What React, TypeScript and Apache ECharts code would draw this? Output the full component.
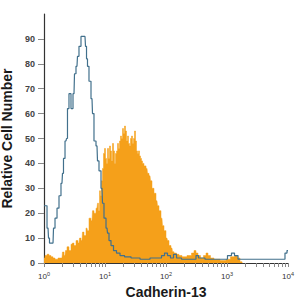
import React, { useEffect, useRef } from "react";
import * as echarts from "echarts";

// x values are log10(fluorescence intensity)
const controlLogX = [0, 0.033, 0.066, 0.082, 0.098, 0.148, 0.164, 0.197, 0.23, 0.262, 0.295, 0.311, 0.328, 0.361, 0.377, 0.393, 0.426, 0.459, 0.492, 0.508, 0.541, 0.557, 0.59, 0.623, 0.672, 0.689, 0.705, 0.721, 0.754, 0.787, 0.803, 0.836, 0.869, 0.885, 0.918, 0.951, 0.967, 1.0, 1.033, 1.049, 1.082, 1.115, 1.164, 1.213, 1.279, 1.361, 1.492, 1.656, 1.82, 1.902, 1.951, 2.0, 2.049, 2.098, 2.148, 2.197, 2.311, 2.475, 2.508, 2.557, 2.721, 2.967, 3.049, 3.098, 3.148, 3.213, 3.541, 3.934, 3.967, 4.0];
const controlCount = [23, 23, 14, 10, 8, 8, 14, 18, 22, 27, 32, 36, 42, 49, 50, 62, 68, 62, 68, 76, 79, 83, 87, 91, 91, 87, 82, 79, 73, 66, 60, 49, 47, 41, 37, 30, 24, 18, 14, 12, 9, 7, 5, 4, 3, 2.5, 2, 1.5, 2, 2, 3, 4, 3, 2, 3.5, 2, 1.5, 1.5, 3, 2, 1.5, 1.5, 3, 4, 3, 1.5, 1.5, 1.5, 4, 5];

const sampleLogX = [0, 0.033, 0.066, 0.098, 0.131, 0.164, 0.197, 0.262, 0.295, 0.311, 0.344, 0.361, 0.393, 0.426, 0.459, 0.475, 0.508, 0.541, 0.574, 0.59, 0.623, 0.639, 0.672, 0.705, 0.721, 0.754, 0.787, 0.803, 0.836, 0.869, 0.885, 0.902, 0.918, 0.934, 0.951, 0.967, 0.984, 1.0, 1.016, 1.033, 1.049, 1.066, 1.082, 1.098, 1.115, 1.131, 1.148, 1.164, 1.18, 1.197, 1.213, 1.23, 1.246, 1.262, 1.279, 1.295, 1.311, 1.328, 1.344, 1.361, 1.377, 1.393, 1.41, 1.426, 1.443, 1.459, 1.475, 1.492, 1.508, 1.525, 1.541, 1.557, 1.574, 1.59, 1.607, 1.623, 1.656, 1.689, 1.705, 1.738, 1.754, 1.787, 1.82, 1.852, 1.869, 1.902, 1.934, 1.951, 1.984, 2.016, 2.033, 2.066, 2.098, 2.115, 2.148, 2.197, 2.23, 2.295, 2.393, 2.443, 2.475, 2.508, 2.541, 2.59, 2.639, 2.672, 2.705, 2.754, 2.82, 2.951, 3.016, 3.098, 3.148, 3.197, 3.23, 3.262];
const sampleCount = [2, 3, 3.5, 3, 2.5, 2, 1.5, 2, 2, 4.4, 3, 5, 6.5, 5, 7.5, 8, 7, 9, 8, 10, 9, 12.4, 11, 14, 13, 18, 17, 21, 20, 22, 24, 21, 29, 27, 33, 38, 44, 46, 42, 40, 46, 42, 47, 45, 41, 48, 45, 40, 44, 45, 48, 46, 49, 51, 50, 54, 52, 55, 53, 49, 51, 48, 47, 50, 51, 48, 50, 53, 49, 45, 44, 45, 43, 42, 41, 40, 39, 38, 36, 35, 33, 30, 28, 25, 23, 21, 18, 15, 13, 10, 9, 7, 6, 4.5, 4, 3.5, 3, 2.5, 3, 4, 5, 4, 3, 2, 3, 4, 3, 2, 1.5, 1, 1.5, 2.5, 3, 2, 0.5, 0];

const decadeTicks = [0, 1, 2, 3, 4];
const minorMultipliers = [2, 3, 4, 5, 6, 7, 8, 9];
const yTicks = [0, 10, 20, 30, 40, 50, 60, 70, 80, 90];

const xTitle = "Cadherin-13";
const yTitle = "Relative Cell Number";

export default function App() {
  const ref = useRef<HTMLDivElement>(null);
  useEffect(() => {
    if (!ref.current) return;
    const chart = echarts.init(ref.current, null, { renderer: "svg" });
    const tickValues: number[] = [];
    decadeTicks.forEach((d, i) => {
      tickValues.push(d);
      if (i < decadeTicks.length - 1) {
        minorMultipliers.forEach((m) => tickValues.push(d + Math.log10(m)));
      }
    });
    const font = "Liberation Sans, Arial, sans-serif";
    chart.setOption({
      animation: false,
      backgroundColor: "#ffffff",
      grid: { left: 44, right: 12, top: 14, bottom: 37, containLabel: false, outerBoundsMode: "none" },
      xAxis: {
        type: "value",
        min: 0,
        max: 4,
        interval: 1,
        name: xTitle,
        nameLocation: "middle",
        nameGap: 21,
        nameTextStyle: { fontFamily: font, fontWeight: "bold", fontSize: 14, color: "#1a1a1a" },
        axisLine: { lineStyle: { color: "#333333", width: 1.2 } },
        axisTick: { customValues: tickValues, length: 4, lineStyle: { color: "#888888" } },
        axisLabel: {
          customValues: decadeTicks,
          margin: 8,
          fontFamily: font,
          fontSize: 8,
          color: "#333333",
          formatter: (v: number) => `10{s|${Math.round(v)}}`,
          rich: { s: { fontSize: 5.5, fontFamily: font, color: "#333333", verticalAlign: "top", padding: [0, 0, 4, 0] } },
        },
        splitLine: { show: false },
      },
      yAxis: {
        type: "value",
        min: 0,
        max: 100,
        interval: 10,
        name: yTitle,
        nameLocation: "middle",
        nameGap: 24,
        nameTextStyle: { fontFamily: font, fontWeight: "bold", fontSize: 14, color: "#1a1a1a" },
        axisLine: { show: true, lineStyle: { color: "#333333", width: 1.2 } },
        axisTick: { show: true, customValues: yTicks, length: 6, lineStyle: { color: "#888888" } },
        axisLabel: {
          customValues: yTicks,
          margin: 9,
          fontFamily: font,
          fontWeight: "bold",
          fontSize: 9,
          color: "#444444",
        },
        splitLine: { show: false },
      },
      series: [
        {
          type: "line",
          step: "middle",
          showSymbol: false,
          data: sampleLogX.map((x, i) => [x, sampleCount[i]]),
          lineStyle: { width: 0.5, color: "#F5A01A" },
          areaStyle: { color: "#F5A01A", opacity: 1 },
          z: 2,
        },
        {
          type: "line",
          step: "middle",
          showSymbol: false,
          data: controlLogX.map((x, i) => [x, controlCount[i]]),
          lineStyle: { width: 1.2, color: "#41708C" },
          z: 3,
        },
      ],
    });
    return () => chart.dispose();
  }, []);
  return <div ref={ref} style={{ width: 300, height: 300, position: "absolute", left: 0, top: 0 }} />;
}
